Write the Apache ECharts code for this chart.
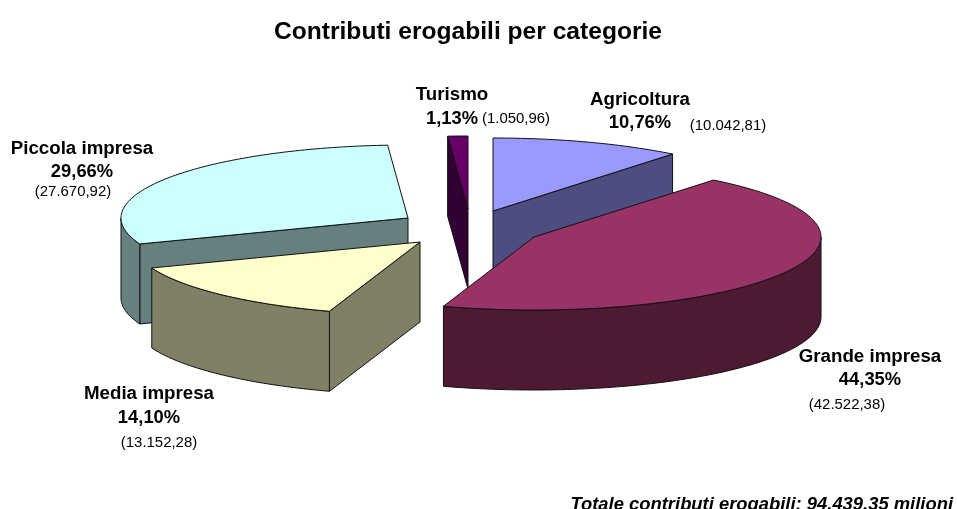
<!DOCTYPE html>
<html><head><meta charset="utf-8">
<style>html,body{margin:0;padding:0;background:#fff}#c{width:957px;height:509px}</style>
<script src="https://cdn.jsdelivr.net/npm/echarts@6/dist/echarts.min.js"></script>
</head><body><div id="c"></div>
<script>
// Data
const categories = ['Agricoltura', 'Grande impresa', 'Media impresa', 'Piccola impresa', 'Turismo'];
const percentages = [10.76, 44.35, 14.10, 29.66, 1.13];
const percentLabels = ['10,76%', '44,35%', '14,10%', '29,66%', '1,13%'];
const amountLabels = ['(10.042,81)', '(42.522,38)', '(13.152,28)', '(27.670,92)', '(1.050,96)'];
const titleText = 'Contributi erogabili per categorie';
const footerText = 'Totale contributi erogabili: 94.439,35 milioni';

// Styles and layout (per slice, same order as categories)
const topColors = ['#9999FF', '#993366', '#FFFFCC', '#CCFFFF', '#660066'];
const sideColors = ['#4D4D80', '#4D1933', '#808066', '#668080', '#330033'];
const explodedCentres = [[493, 211], [534, 237], [420, 242], [408, 218], [468, 209]];
const drawOrder = [3, 2, 4, 0, 1];
const radiusX = 287, radiusY = 73, depth = 80;
const nameSpots = [[640, 100], [870, 357], [149, 394], [82, 149], [452, 95]];
const pctSpots = [[640, 123], [870, 380], [149, 418], [82, 172], [452, 119]];
const amountSpots = [[728, 126], [847, 405], [159, 443], [73, 192], [516, 119]];
const fontFamily = '"Liberation Sans", Arial, sans-serif';

const total = percentages.reduce((a, b) => a + b, 0);
const startAngle = [];
percentages.reduce((acc, v, i) => { startAngle[i] = acc; return acc + v / total * 2 * Math.PI; }, 0);

function renderSlice(params, api) {
  const i = api.value(0);
  const a = startAngle[i];
  const b = a + api.value(1) / total * 2 * Math.PI;
  const [cx, cy] = explodedCentres[i];
  const pt = (t, dz) => [cx + radiusX * Math.sin(t), cy - radiusY * Math.cos(t) + (dz || 0)];
  const arc = (from, to, dz) => {
    const n = Math.max(2, Math.ceil(Math.abs(to - from) / 0.02));
    const out = [];
    for (let k = 0; k <= n; k++) out.push(pt(from + (to - from) * k / n, dz));
    return out;
  };
  const stroke = { stroke: '#111', lineWidth: 1, lineJoin: 'round' };
  const children = [];
  const poly = (points, fill) => children.push({
    type: 'polygon', shape: { points }, style: Object.assign({ fill }, stroke)
  });
  const side = sideColors[i];
  // cut faces that look toward the viewer
  if (-Math.sin(a) > 1e-6) poly([[cx, cy], pt(a), pt(a, depth), [cx, cy + depth]], side);
  if (Math.sin(b) > 1e-6) poly([[cx, cy], pt(b), pt(b, depth), [cx, cy + depth]], side);
  // outer wall: only the near half of the rim
  const wa = Math.max(a, Math.PI / 2), wb = Math.min(b, Math.PI * 1.5);
  if (wb > wa) poly(arc(wa, wb, 0).concat(arc(wb, wa, depth)), side);
  // top face
  poly([[cx, cy]].concat(arc(a, b, 0)), topColors[i]);
  return { type: 'group', children };
}

function label(text, spot, font, stretch) {
  return {
    type: 'text', x: spot[0], y: spot[1], scaleX: stretch,
    style: { text, fill: '#000', font, textAlign: 'center', textVerticalAlign: 'middle' }
  };
}
const labelGraphics = [];
categories.forEach((name, i) => {
  labelGraphics.push(label(name, nameSpots[i], 'bold 18px ' + fontFamily, 1.04));
  labelGraphics.push(label(percentLabels[i], pctSpots[i], 'bold 18px ' + fontFamily, 1.02));
  labelGraphics.push(label(amountLabels[i], amountSpots[i], '14.5px ' + fontFamily, 1.03));
});

const chart = echarts.init(document.getElementById('c'), null, { renderer: 'canvas' });
chart.setOption({
  backgroundColor: '#fff',
  animation: false,
  title: [
    { text: titleText, left: 463, top: 15, textAlign: 'center',
      textStyle: { fontFamily, fontSize: 24.6, fontWeight: 'bold', color: '#000' } },
    { text: footerText, right: 4, top: 496, padding: 0,
      textStyle: { fontFamily, fontSize: 18.4, fontWeight: 'bold', fontStyle: 'italic', color: '#000' } }
  ],
  graphic: labelGraphics,
  series: [{
    type: 'custom',
    coordinateSystem: 'none',
    renderItem: renderSlice,
    silent: true,
    data: drawOrder.map(i => ({ name: categories[i], value: [i, percentages[i]] }))
  }]
});
</script></body></html>
